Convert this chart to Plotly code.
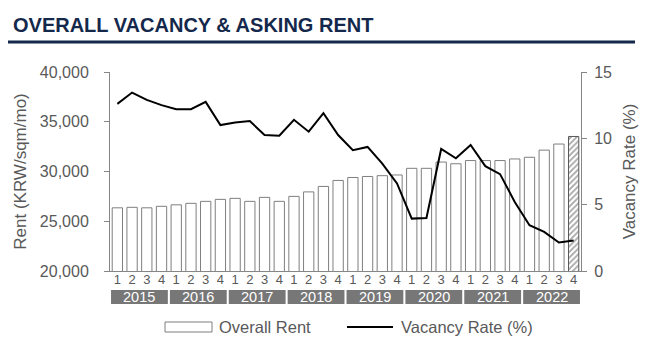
import plotly.graph_objects as go

years = ["2015", "2016", "2017", "2018", "2019", "2020", "2021", "2022"]
quarters = ["1", "2", "3", "4"]
rent = [26350, 26400, 26350, 26500, 26650, 26800, 27000, 27200,
        27300, 27000, 27400, 27000, 27500, 27950, 28500, 29100,
        29400, 29500, 29580, 29650, 30320, 30320, 30950, 30780,
        31100, 31100, 31100, 31260, 31430, 32150, 32760, 33520]
vacancy = [12.6, 13.45, 12.9, 12.5, 12.2, 12.2, 12.75, 11.0,
           11.2, 11.3, 10.25, 10.2, 11.4, 10.5, 11.9, 10.25,
           9.1, 9.35, 8.1, 6.6, 3.95, 4.0, 9.2, 8.5,
           9.5, 7.9, 7.3, 5.2, 3.45, 2.95, 2.15, 2.3]

labels = [q for y in years for q in quarters]
xs = list(range(len(labels)))
n = len(xs)

GRAY_TXT = "#595959"
AX = "#868686"
NAVY = "#14284b"
FONT = "Liberation Sans, Arial, sans-serif"

patterns = [""] * (n - 1) + ["/"]
line_cols = ["#7f7f7f"] * (n - 1) + ["#595959"]

fig = go.Figure()
fig.add_trace(go.Bar(
    x=xs, y=rent, name="Overall Rent",
    marker=dict(color="white", line=dict(color=line_cols, width=1),
                pattern=dict(shape=patterns, fgcolor="#4d4d4d", bgcolor="white",
                             size=4, solidity=0.45)),
    yaxis="y"))
fig.add_trace(go.Scatter(
    x=xs, y=vacancy, mode="lines", name="Vacancy Rate (%)",
    line=dict(color="black", width=2), yaxis="y2"))

# Layout geometry helpers (plot area in pixels)
L, R, T, B = 110, 77, 72, 76
W, H = 658, 347
pw, ph = W - L - R, H - T - B
def px(x):
    return (x - L) / pw
def py(y):
    return (H - B - y) / ph

shapes = []
annotations = []
# year bands
for i, yr in enumerate(years):
    x0 = i * 4 - 0.5
    x1 = i * 4 + 3.5
    shapes.append(dict(type="rect", xref="x", yref="paper", x0=x0 + 0.07, x1=x1 - 0.07,
                       y0=py(304), y1=py(290), fillcolor="#777777", line=dict(width=0),
                       layer="above"))
    annotations.append(dict(x=(x0 + x1) / 2, y=py(297), xref="x", yref="paper",
                            text=yr, showarrow=False,
                            font=dict(size=14.5, color="white", family=FONT),
                            xanchor="center", yanchor="middle"))

# title + underline
annotations.append(dict(x=px(11), y=py(25), xref="paper", yref="paper",
                        text="<b>OVERALL VACANCY & ASKING RENT</b>", showarrow=False,
                        font=dict(size=20, color=NAVY, family=FONT),
                        xanchor="left", yanchor="middle"))
shapes.append(dict(type="line", xref="paper", yref="paper", x0=px(8), x1=px(635),
                   y0=py(42), y1=py(42), line=dict(color=NAVY, width=3)))

# custom legend
shapes.append(dict(type="rect", xref="paper", yref="paper", x0=px(165), x1=px(212),
                   y0=py(332), y1=py(322), fillcolor="white",
                   line=dict(color="#7f7f7f", width=1)))
shapes.append(dict(type="line", xref="paper", yref="paper", x0=px(347), x1=px(393),
                   y0=py(327), y1=py(327), line=dict(color="black", width=2)))
annotations.append(dict(x=px(217), y=py(327), xref="paper", yref="paper",
                        text="Overall Rent", showarrow=False,
                        font=dict(size=16.5, color=GRAY_TXT, family=FONT),
                        xanchor="left", yanchor="middle"))
annotations.append(dict(x=px(399), y=py(327), xref="paper", yref="paper",
                        text="Vacancy Rate (%)", showarrow=False,
                        font=dict(size=16.5, color=GRAY_TXT, family=FONT),
                        xanchor="left", yanchor="middle"))

fig.update_layout(
    width=W, height=H,
    margin=dict(l=L, r=R, t=T, b=B, pad=0),
    paper_bgcolor="white", plot_bgcolor="white",
    showlegend=False,
    bargap=0.3,
    font=dict(family=FONT, color=GRAY_TXT),
    xaxis=dict(range=[-0.5, n - 0.5], tickmode="array", tickvals=xs, ticktext=labels,
               showline=True, linecolor=AX, linewidth=1, ticks="", showgrid=False,
               zeroline=False, tickfont=dict(size=13, color=GRAY_TXT),
               ticklabelstandoff=-4, fixedrange=True),
    yaxis=dict(range=[20000, 40000], tickvals=[20000, 25000, 30000, 35000, 40000],
               tickformat=",", showline=True, linecolor=AX, linewidth=1,
               ticks="outside", ticklen=5, tickcolor=AX, showgrid=False, zeroline=False,
               tickfont=dict(size=16, color=GRAY_TXT), ticklabelstandoff=12,
               title=dict(text="Rent (KRW/sqm/mo)", font=dict(size=17, color=GRAY_TXT),
                          standoff=8)),
    yaxis2=dict(range=[0, 15], tickvals=[0, 5, 10, 15], overlaying="y", side="right",
                showline=True, linecolor=AX, linewidth=1, ticks="outside", ticklen=5,
                tickcolor=AX, showgrid=False, zeroline=False,
                tickfont=dict(size=16, color=GRAY_TXT), ticklabelstandoff=4,
                title=dict(text="Vacancy Rate (%)", font=dict(size=17, color=GRAY_TXT),
                           standoff=12)),
    shapes=shapes, annotations=annotations,
)

fig.write_html("out.html")
